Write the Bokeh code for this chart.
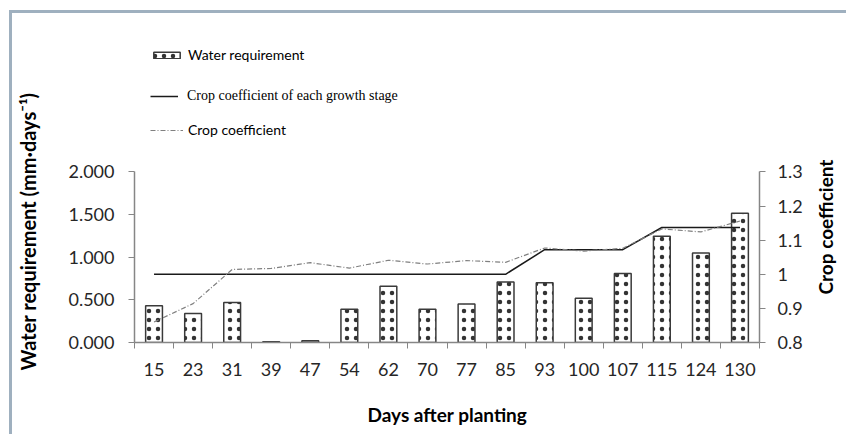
import math
from bokeh.plotting import figure
from bokeh.models import (Range1d, LinearAxis, FixedTicker, NumeralTickFormatter,
                          Legend, LegendItem, ColumnDataSource, Title)
from bokeh.embed import file_html
from bokeh.resources import INLINE

# ---- data ----
days = ["15", "23", "31", "39", "47", "54", "62", "70", "77", "85",
        "93", "100", "107", "115", "124", "130"]
water_req = [0.43, 0.34, 0.47, 0.01, 0.02, 0.39, 0.66, 0.39, 0.45, 0.71,
             0.70, 0.52, 0.81, 1.245, 1.05, 1.515]
kc_stage = [1.0, 1.0, 1.0, 1.0, 1.0, 1.0, 1.0, 1.0, 1.0, 1.0,
            1.072, 1.072, 1.072, 1.137, 1.137, 1.137]
kc = [0.86, 0.914, 1.014, 1.017, 1.034, 1.018, 1.041, 1.03, 1.04, 1.035,
      1.077, 1.068, 1.076, 1.133, 1.124, 1.156]
left_ticks = [0.0, 0.5, 1.0, 1.5, 2.0]
right_ticks = [0.8, 0.9, 1.0, 1.1, 1.2, 1.3]
right_labels = ["0.8", "0.9", "1", "1.1", "1.2", "1.3"]

# ---- layout (pixels) ----
FRAME_W = 625
AXIS_H = 170.6          # pixel height of the axes' value span
FRAME_H = 312           # frame extends up to hold the legend
left_span = (0.0, 2.0)
right_span = (0.8, 1.3)
y_top = left_span[0] + (left_span[1] - left_span[0]) * FRAME_H / AXIS_H
r_top = right_span[0] + (right_span[1] - right_span[0]) * FRAME_H / AXIS_H
R_TITLE_PX = 48         # lower end of the right title, px above the frame bottom
L_TITLE_PX = 250        # upper end of the left title, px above the frame bottom
r_title_y = right_span[0] + (right_span[1] - right_span[0]) * R_TITLE_PX / AXIS_H
l_title_y = left_span[0] + (left_span[1] - left_span[0]) * L_TITLE_PX / AXIS_H

n = len(days)
xc = [i + 0.5 for i in range(n)]
src = ColumnDataSource(dict(x=xc, water=water_req, kcs=kc_stage, kc=kc, day=days))

AX = "#868686"
TXT = "#262626"
EDGE = "#9fb0bf"

p = figure(frame_width=FRAME_W, frame_height=FRAME_H,
           min_border_left=134, min_border_right=66,
           min_border_top=30, min_border_bottom=80,
           x_range=Range1d(0, n), y_range=Range1d(0, y_top),
           output_backend="svg", toolbar_location=None,
           styles={"margin": "0",
                   "background-color": "white",
                   "background-image": f"linear-gradient({EDGE}, {EDGE}), "
                                       f"linear-gradient({EDGE}, {EDGE})",
                   "background-repeat": "no-repeat",
                   "background-size": "3px 100%, 100% 3px",
                   "background-position": "9px 10px, 9px 10px"})
p.outline_line_color = None
p.grid.visible = False
p.background_fill_color = "white"
p.border_fill_color = None

p.extra_y_ranges = {"kc": Range1d(0.8, r_top)}

# bars
bars = p.vbar(x="x", top="water", width=0.43, source=src,
              fill_color="white", line_color="#3a3a3a", line_width=1.5,
              hatch_pattern=".", hatch_color="#333333", hatch_scale=9,
              hatch_weight=0.15)

# lines on the right axis
stage = p.line(x="x", y="kcs", source=src, y_range_name="kc",
               line_color="#1a1a1a", line_width=1.5)
kcl = p.line(x="x", y="kc", source=src, y_range_name="kc",
             line_color="#808080", line_width=1.2, line_dash="5 2 1 2")

# x axis
xa = p.xaxis[0]
xa.ticker = FixedTicker(ticks=xc, minor_ticks=list(range(n + 1)))
xa.major_label_overrides = {x: d for x, d in zip(xc, days)}
xa.major_tick_line_color = None
xa.major_tick_out = 0
xa.minor_tick_out = 6
xa.minor_tick_in = 0
xa.minor_tick_line_color = AX
xa.axis_line_color = AX
xa.axis_line_width = 1.5
xa.major_label_text_font = "Lato"
xa.major_label_text_font_size = "18px"
xa.major_label_text_color = TXT
xa.major_label_standoff = 14

p.add_layout(Title(text="Days after planting", align="left", offset=233,
                   vertical_align="top", standoff=48,
                   text_font="Lato", text_font_style="bold",
                   text_font_size="19px", text_color="black"), "below")

# left axis
ya = p.yaxis[0]
ya.ticker = FixedTicker(ticks=left_ticks)
ya.formatter = NumeralTickFormatter(format="0.000")
ya.bounds = left_span
ya.minor_tick_line_color = None
ya.major_tick_out = 6
ya.major_tick_in = 0
ya.major_tick_line_color = AX
ya.axis_line_color = AX
ya.axis_line_width = 1.5
ya.major_label_text_font = "Lato"
ya.major_label_text_font_size = "18px"
ya.major_label_text_color = TXT
ya.major_label_standoff = 14

# left title, drawn as a rotated label on an outer, line-less axis
lt = LinearAxis()
lt.ticker = FixedTicker(ticks=[l_title_y])
lt.major_label_overrides = {l_title_y: "Water requirement (mm\u00b7days\u207b\u00b9)"}
lt.major_label_orientation = math.pi / 2
lt.axis_line_color = None
lt.major_tick_line_color = None
lt.minor_tick_line_color = None
lt.major_tick_out = 0
lt.major_tick_in = 0
lt.major_label_standoff = 38
lt.major_label_text_font = "Lato"
lt.major_label_text_font_style = "bold"
lt.major_label_text_font_size = "20px"
lt.major_label_text_color = "black"
p.add_layout(lt, "left")

# right axis
ra = LinearAxis(y_range_name="kc")
ra.ticker = FixedTicker(ticks=right_ticks)
ra.bounds = right_span
ra.major_label_overrides = {t: l for t, l in zip(right_ticks, right_labels)}
ra.minor_tick_line_color = None
ra.major_tick_out = 6
ra.major_tick_in = 0
ra.major_tick_line_color = AX
ra.axis_line_color = AX
ra.axis_line_width = 1.5
ra.major_label_text_font = "Lato"
ra.major_label_text_font_size = "18px"
ra.major_label_text_color = TXT
ra.major_label_standoff = 12
p.add_layout(ra, "right")

# right title, drawn as a rotated label on an outer, line-less axis
rt = LinearAxis(y_range_name="kc")
rt.ticker = FixedTicker(ticks=[r_title_y])
rt.major_label_overrides = {r_title_y: "Crop coefficient"}
rt.major_label_orientation = math.pi / 2
rt.axis_line_color = None
rt.major_tick_line_color = None
rt.minor_tick_line_color = None
rt.major_tick_out = 0
rt.major_tick_in = 0
rt.major_label_standoff = 20
rt.major_label_text_font = "Lato"
rt.major_label_text_font_style = "bold"
rt.major_label_text_font_size = "19px"
rt.major_label_text_color = "black"
p.add_layout(rt, "right")

# legends (three, each with its own font), inside the tall frame
def mk_legend(label, rend, loc, font, gw, standoff):
    lg = Legend(items=[LegendItem(label=label, renderers=[rend])],
                location=loc, orientation="vertical",
                border_line_color=None, background_fill_alpha=0,
                padding=0, margin=0, spacing=0,
                glyph_width=gw, glyph_height=8, label_height=16,
                label_standoff=standoff,
                label_text_font=font, label_text_font_size="14px",
                label_text_color="black", label_text_baseline="middle")
    p.add_layout(lg, "center")

mk_legend("Water requirement", bars, (16, 279), "Lato", 33, 5)
mk_legend("Crop coefficient of each growth stage", stage, (16, 238),
          "Liberation Serif", 28, 9)
mk_legend("Crop coefficient", kcl, (16, 204), "Lato", 33, 5)

open("out.html", "w").write(file_html(p, INLINE))
